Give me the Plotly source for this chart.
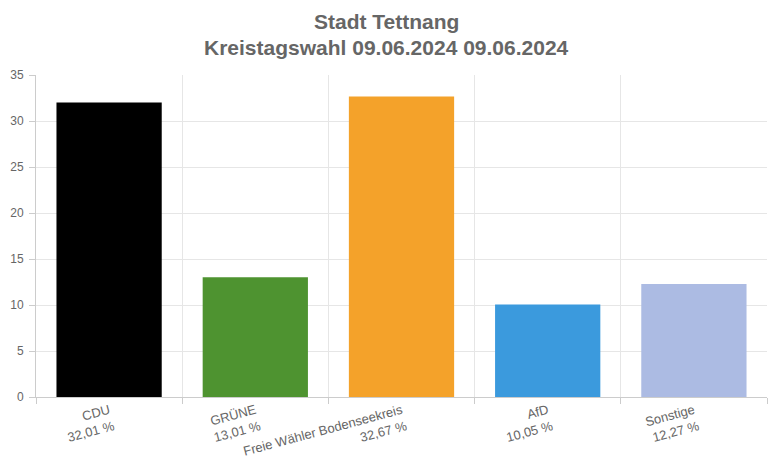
import plotly.graph_objects as go

parties = ["CDU", "GRÜNE", "Freie Wähler Bodenseekreis", "AfD", "Sonstige"]
values = [32.01, 13.01, 32.67, 10.05, 12.27]
pct_labels = ["32,01 %", "13,01 %", "32,67 %", "10,05 %", "12,27 %"]
colors = ["#000000", "#4e9330", "#f4a22a", "#3b9add", "#acbbe3"]
y_ticks = [0, 5, 10, 15, 20, 25, 30, 35]
title_lines = ["Stadt Tettnang", "Kreistagswahl 09.06.2024 09.06.2024"]

cats = [f"{p}<br>{l}" for p, l in zip(parties, pct_labels)]

fig = go.Figure(go.Bar(
    x=cats, y=values, marker=dict(color=colors, line=dict(width=0)),
    hoverinfo="x+y",
))

fig.update_layout(
    width=780, height=461,
    margin=dict(l=28, r=21, t=67, b=72, autoexpand=False),
    paper_bgcolor="white", plot_bgcolor="white",
    font=dict(family="Liberation Sans, Arial, sans-serif", color="#666666", size=12),
    bargap=0.28,
    showlegend=False,
)
for txt, yy in zip(title_lines, [1.1646, 1.0839]):
    fig.add_annotation(
        text=f"<b>{txt}</b>", xref="paper", yref="paper", x=0.480, y=yy,
        xanchor="center", yanchor="middle", showarrow=False,
        font=dict(size=21, color="#666666"),
    )
fig.update_xaxes(
    type="category", tickson="boundaries", showgrid=True, gridcolor="#e6e6e6",
    showline=True, linecolor="#cccccc", ticks="outside", ticklen=6, tickcolor="#cccccc",
    tickangle=-15, tickfont=dict(size=13, color="#666666"), automargin=False,
)
fig.update_yaxes(
    range=[0, 35], tickvals=y_ticks, showgrid=True, gridcolor="#e6e6e6",
    showline=True, linecolor="#cccccc", ticks="outside", ticklen=6, tickcolor="#cccccc",
    tickfont=dict(size=12, color="#666666"), zeroline=False, automargin=False,
    ticklabelstandoff=3,
)

fig.write_html("out.html")
